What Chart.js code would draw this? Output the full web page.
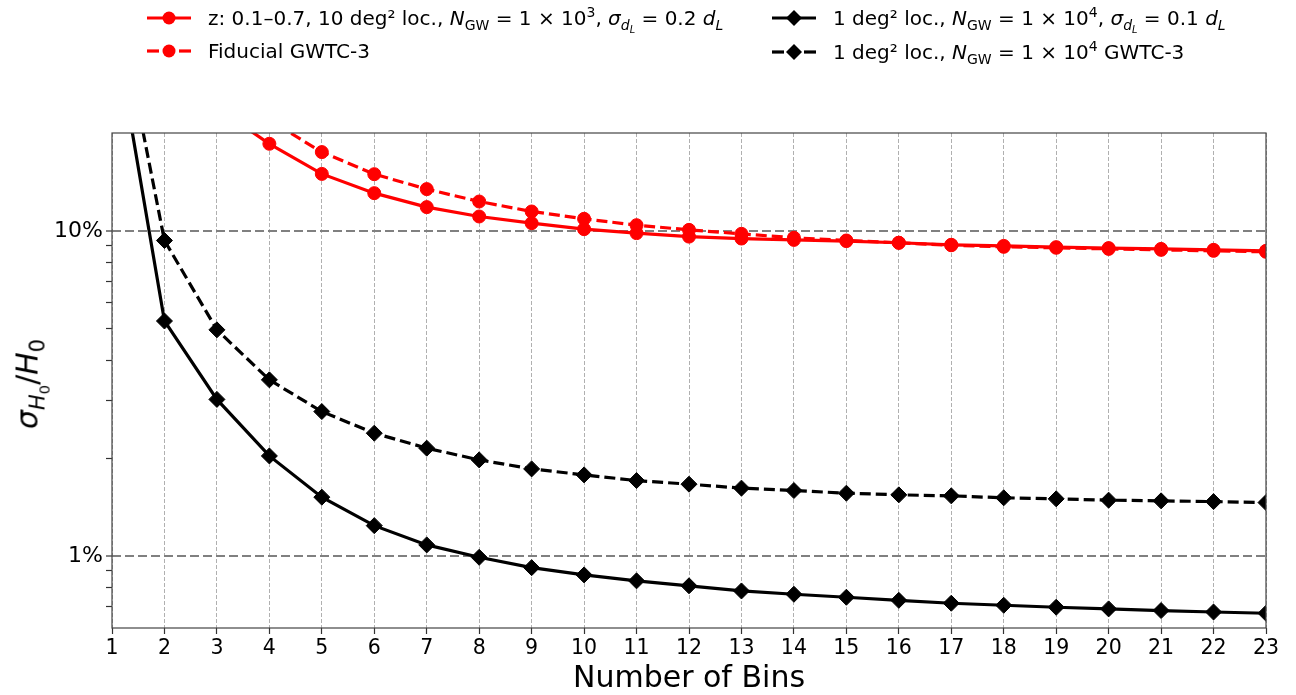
<!DOCTYPE html>
<html>
<head>
<meta charset="utf-8">
<script src="https://cdn.jsdelivr.net/npm/chart.js@4.4.0/dist/chart.umd.min.js"></script>
<style>
  html, body { margin: 0; padding: 0; background: #fff; }
  #wrap { position: relative; width: 1296px; height: 695px; font-family: "DejaVu Sans", sans-serif; color: #000; }
  #plot { position: absolute; left: 0; top: 0; }
  .sample { position: absolute; }
  .txt { position: absolute; font-size: 20px; line-height: 24px; white-space: nowrap; }
  .sb { font-size: 0.7em; position: relative; top: 0.35em; }
  .sp { font-size: 0.7em; position: relative; top: -0.6em; }
  #ytitle { position: absolute; left: 30px; top: 384px; font-size: 30px; line-height: 36px; white-space: nowrap;
            transform: translate(-50%, -50%) rotate(-90deg); }
</style>
</head>
<body>
<div id="wrap">
  <canvas id="plot" width="1296" height="695"></canvas>

  <svg class="sample" style="left:147px;top:8px" width="44" height="20">
    <line x1="0" y1="10" x2="44" y2="10" stroke="#ff0000" stroke-width="3.2"/>
    <circle cx="22" cy="10" r="6.5" fill="#ff0000"/>
  </svg>
  <div class="txt" style="left:208px;top:6px">z: 0.1–0.7, 10 deg² loc., <i>N</i><span class="sb">GW</span> = 1 × 10<span class="sp">3</span>, <i>σ</i><span class="sb"><i>d</i><span class="sb"><i>L</i></span></span> = 0.2 <i>d</i><span class="sb"><i>L</i></span></div>

  <svg class="sample" style="left:147px;top:41px" width="44" height="20">
    <line x1="0" y1="10" x2="12" y2="10" stroke="#ff0000" stroke-width="3.2"/>
    <line x1="32" y1="10" x2="44" y2="10" stroke="#ff0000" stroke-width="3.2"/>
    <circle cx="22" cy="10" r="6.5" fill="#ff0000"/>
  </svg>
  <div class="txt" style="left:208px;top:39px">Fiducial GWTC-3</div>

  <svg class="sample" style="left:772px;top:8px" width="44" height="20">
    <line x1="0" y1="10" x2="44" y2="10" stroke="#000" stroke-width="3.2"/>
    <polygon points="22,2 30,10 22,18 14,10" fill="#000"/>
  </svg>
  <div class="txt" style="left:833px;top:6px">1 deg² loc., <i>N</i><span class="sb">GW</span> = 1 × 10<span class="sp">4</span>, <i>σ</i><span class="sb"><i>d</i><span class="sb"><i>L</i></span></span> = 0.1 <i>d</i><span class="sb"><i>L</i></span></div>

  <svg class="sample" style="left:772px;top:42px" width="44" height="20">
    <line x1="0" y1="10" x2="12" y2="10" stroke="#000" stroke-width="3.2"/>
    <line x1="32" y1="10" x2="44" y2="10" stroke="#000" stroke-width="3.2"/>
    <polygon points="22,2 30,10 22,18 14,10" fill="#000"/>
  </svg>
  <div class="txt" style="left:833px;top:40px">1 deg² loc., <i>N</i><span class="sb">GW</span> = 1 × 10<span class="sp">4</span> GWTC-3</div>

  <div id="ytitle"><i>σ</i><span class="sb"><i>H</i><span class="sb">0</span></span>/<i>H</i><span class="sb">0</span></div>
</div>

<script>
// number of bins on the x axis
const bins = [1, 2, 3, 4, 5, 6, 7, 8, 9, 10, 11, 12, 13, 14, 15, 16, 17, 18, 19, 20, 21, 22, 23];

// sigma_H0 / H0 in percent
const redSolid = [55, 33, 23.9, 18.53, 14.97, 13.06, 11.83, 11.07, 10.56, 10.12, 9.84, 9.60,
  9.47, 9.38, 9.30, 9.19, 9.06, 8.99, 8.91, 8.85, 8.80, 8.74, 8.68];
const redDashed = [70, 40, 28, 21.9, 17.47, 14.94, 13.44, 12.31, 11.47, 10.89, 10.41, 10.07,
  9.79, 9.52, 9.34, 9.19, 9.03, 8.93, 8.87, 8.80, 8.74, 8.68, 8.62];
const blackSolid = [46.7, 5.28, 3.03, 2.03, 1.516, 1.239, 1.081, 0.990, 0.920, 0.874, 0.838, 0.809,
  0.780, 0.762, 0.746, 0.730, 0.715, 0.705, 0.695, 0.687, 0.679, 0.672, 0.666];
const blackDashed = [61.5, 9.34, 4.96, 3.48, 2.78, 2.385, 2.145, 1.974, 1.852, 1.775, 1.705, 1.662,
  1.616, 1.589, 1.559, 1.541, 1.530, 1.509, 1.498, 1.484, 1.477, 1.469, 1.459];

// y tick labels (log axis)
const yMajorTicks = [1, 10];
const yTickLabels = ['1%', '10%'];

const FONT = "'DejaVu Sans', sans-serif";

function pts(ys) {
  return bins.map((b, i) => ({ x: b, y: ys[i] }));
}

// minor log ticks 0.7 ... 9, then the decades
const yTicks = [];
for (const dec of [0.1, 1]) {
  for (let m = 1; m <= 9; m++) {
    const v = +(m * dec).toFixed(2);
    if (v > 0.6 && v < 20) yTicks.push(v);
  }
}
yTicks.push(10);

const frame = {
  id: 'frame',
  afterDatasetsDraw(chart) {
    const { ctx, chartArea: a } = chart;
    ctx.save();
    ctx.strokeStyle = '#444';
    ctx.lineWidth = 1.2;
    ctx.strokeRect(a.left, a.top, a.right - a.left, a.bottom - a.top);
    ctx.restore();
  }
};

function series(data, color, dashed, style, order) {
  return {
    data: pts(data),
    borderColor: color,
    backgroundColor: color,
    borderWidth: 3.2,
    borderDash: dashed ? [11, 5] : [],
    pointStyle: style,
    pointRadius: style === 'circle' ? 6.5 : 8,
    pointBorderWidth: 1,
    pointBorderColor: color,
    pointBackgroundColor: color,
    tension: 0,
    clip: 0,
    order: order
  };
}

new Chart(document.getElementById('plot'), {
  type: 'line',
  data: {
    datasets: [
      series(redSolid, '#ff0000', false, 'circle', 4),
      series(redDashed, '#ff0000', true, 'circle', 3),
      series(blackSolid, '#000000', false, 'rectRot', 2),
      series(blackDashed, '#000000', true, 'rectRot', 1)
    ]
  },
  options: {
    responsive: false,
    animation: false,
    devicePixelRatio: 1,
    layout: { padding: { left: 0, top: 133, right: 30, bottom: 0 } },
    plugins: { legend: { display: false }, tooltip: { enabled: false } },
    scales: {
      x: {
        type: 'linear',
        min: 1,
        max: 23,
        afterFit: s => { s.height = 67; },
        ticks: {
          stepSize: 1,
          autoSkip: false,
          maxRotation: 0,
          padding: 2,
          color: '#000',
          font: { family: FONT, size: 20.5 }
        },
        grid: { color: '#b0b0b0', lineWidth: 1, tickColor: '#333', tickLength: 6, tickWidth: 1.2 },
        border: { display: false, dash: [4, 2] },
        title: {
          display: true,
          text: 'Number of Bins',
          color: '#000',
          font: { family: FONT, size: 30 },
          padding: { top: 0, bottom: -2 }
        }
      },
      y: {
        type: 'logarithmic',
        min: 0.6,
        max: 20,
        afterFit: s => { s.width = 112; },
        afterBuildTicks: s => { s.ticks = yTicks.map(v => ({ value: v })); },
        ticks: {
          autoSkip: false,
          padding: 3,
          color: '#000',
          font: { family: FONT, size: 22 },
          callback: v => {
            const i = yMajorTicks.indexOf(v);
            return i >= 0 ? yTickLabels[i] : '';
          }
        },
        grid: {
          color: c => (yMajorTicks.includes(c.tick && c.tick.value) ? '#808080' : 'rgba(0,0,0,0)'),
          lineWidth: c => (yMajorTicks.includes(c.tick && c.tick.value) ? 2 : 1),
          tickColor: '#333',
          tickWidth: 1.2,
          tickLength: 6
        },
        border: { display: false, dash: [9, 4] }
      }
    }
  },
  plugins: [frame]
});
</script>
</body>
</html>
